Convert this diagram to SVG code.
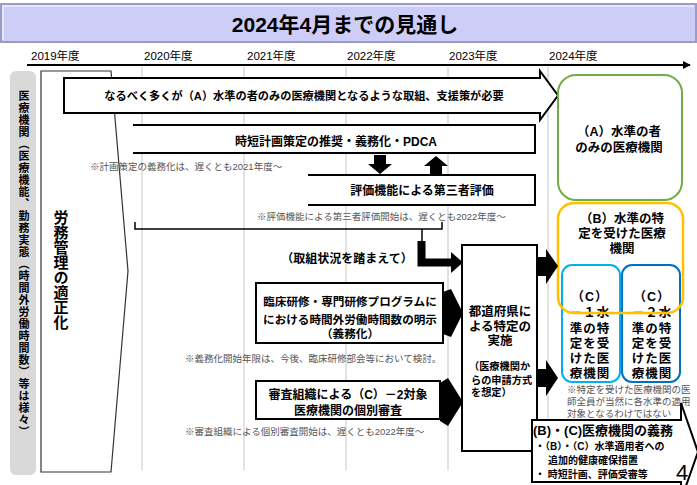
<svg xmlns="http://www.w3.org/2000/svg" width="697" height="485" viewBox="0 0 697 485">
<defs>
<style>
.t{font-family:"Liberation Sans","Noto Sans CJK JP",sans-serif;font-weight:bold;fill:#000}
.c{text-anchor:middle}
.note{font-family:"Liberation Sans","Noto Sans CJK JP",sans-serif;font-size:9.5px;fill:#555}
.box{fill:#fff;stroke:#000;stroke-width:2}
.grid{stroke:#d9d9d9;stroke-width:1.5}
.blk{fill:#000}
</style>
<marker id="ah" viewBox="0 0 10 10" refX="9" refY="5" markerWidth="4" markerHeight="4" orient="auto">
<path d="M0,0 L10,5 L0,10 Z" fill="#000"/>
</marker>
</defs>
<rect width="697" height="485" fill="#fff"/>

<g id="title">
<rect x="1" y="4" width="695" height="38" fill="#cdcdf7" stroke="#9a9acb" stroke-width="2"/>
<path d="M3,40 V6 H694" fill="none" stroke="#eeeeff" stroke-width="1.5"/>
<text class="t c" x="345" y="31.5" font-size="21">2024年4月までの見通し</text>
</g>

<g id="timeline">
<g class="t" font-size="11.5">
<text x="31" y="60" font-weight="normal">2019年度</text>
<text x="144" y="60" font-weight="normal">2020年度</text>
<text x="247" y="60" font-weight="normal">2021年度</text>
<text x="347" y="60" font-weight="normal">2022年度</text>
<text x="449" y="60" font-weight="normal">2023年度</text>
<text x="549" y="60" font-weight="normal">2024年度</text>
</g>
<line x1="27" y1="65" x2="690" y2="65" stroke="#000" stroke-width="2" marker-end="url(#ah)"/>
</g>

<g id="grid">
<line class="grid" x1="142" y1="67" x2="142" y2="470"/>
<line class="grid" x1="244" y1="67" x2="244" y2="470"/>
<line class="grid" x1="346" y1="67" x2="346" y2="470"/>
<line class="grid" x1="448" y1="67" x2="448" y2="470"/>
<line class="grid" x1="548" y1="67" x2="548" y2="470"/>
</g>

<g id="left-strip">
<rect x="10" y="71" width="26" height="404" rx="6" fill="#d9d9d9"/>
<text class="t" x="23" y="90" font-size="11" fill="#333" style="writing-mode:vertical-rl;letter-spacing:1px">医療機関（医療機能、勤務実態（時間外労働時間数）等は様々）</text>
</g>

<g id="labor">
<polygon points="41,71 111,71 128,271 111,472 41,472" fill="#fff" stroke="#333" stroke-width="1.2"/>
<text class="t" x="60" y="210" font-size="15" style="writing-mode:vertical-rl">労務管理の適正化</text>
</g>

<g id="goal-arrow">
<polygon class="box" points="64,78 540,78 540,71 558,95.5 540,120 540,113 64,113"/>
<text class="t c" x="304" y="100" font-size="11.2">なるべく多くが（A）水準の者のみの医療機関となるような取組、支援策が必要</text>
</g>

<g id="plan">
<path d="M133,125 H535 V153 H133" fill="#fff" stroke="#000" stroke-width="2"/>
<text class="t c" x="336" y="146" font-size="12">時短計画策定の推奨・義務化・PDCA</text>
<text class="note" x="90" y="170">※計画策定の義務化は、遅くとも2021年度～</text>
</g>

<g id="eval">
<path d="M308,175 H535 V205 H308" fill="#fff" stroke="#000" stroke-width="2"/>
<text class="t c" x="422" y="195" font-size="12">評価機能による第三者評価</text>
<text class="note" x="257" y="220">※評価機能による第三者評価開始は、遅くとも2022年度～</text>
</g>

<g id="status">
<text class="t c" x="347" y="263" font-size="12">（取組状況を踏まえて）</text>
</g>

<g id="training">
<rect class="box" x="256" y="283" width="187" height="60"/>
<text class="t c" x="350" y="306" font-size="11.6">臨床研修・専門研修プログラムに</text>
<text class="t c" x="350" y="323.5" font-size="11.6">における時間外労働時間数の明示</text>
<text class="t c" x="350" y="337.5" font-size="11.6">（義務化）</text>
<text class="note" x="185" y="362">※義務化開始年限は、今後、臨床研修部会等において検討。</text>
</g>

<g id="review">
<rect class="box" x="256" y="381" width="184" height="38"/>
<text class="t c" x="348" y="398.5" font-size="12">審査組織による（C）－2対象</text>
<text class="t c" x="348" y="414.5" font-size="12">医療機関の個別審査</text>
<text class="note" x="185" y="435">※審査組織による個別審査開始は、遅くとも2022年度～</text>
</g>

<g id="prefecture">
<rect class="box" x="462" y="245" width="75" height="206"/>
<text class="t c" x="500" y="316" font-size="12.5">都道府県に</text>
<text class="t c" x="500" y="330.5" font-size="12.5">よる特定の</text>
<text class="t c" x="500" y="344.5" font-size="12.5">実施</text>
<text class="t" x="469" y="370" font-size="10.2">（医療機関か</text>
<text class="t" x="471" y="384" font-size="10.2">らの申請方式</text>
<text class="t" x="471" y="396" font-size="10.2">を想定）</text>
</g>

<g id="level-a">
<rect x="558" y="75" width="124" height="125" rx="18" fill="#fff" stroke="#70ad47" stroke-width="2"/>
<text class="t c" x="619" y="136" font-size="12.5" fill="#222">（A）水準の者</text>
<text class="t c" x="619" y="152" font-size="12.5" fill="#222">のみの医療機関</text>
</g>

<g id="level-c1">
<rect x="562" y="265" width="58" height="117" rx="10" fill="none" stroke="#00b0f0" stroke-width="2"/>
<g class="t c" font-size="12.5" fill="#222" style="letter-spacing:1px">
<text x="590" y="300.5">（C）</text>
<text x="590" y="316.5">－１水</text>
<text x="590" y="332.5">準の特</text>
<text x="590" y="347.5">定を受</text>
<text x="590" y="362.5">けた医</text>
<text x="590" y="377.5">療機関</text>
</g>
</g>

<g id="level-c2">
<rect x="622" y="265" width="58" height="117" rx="10" fill="none" stroke="#0070c0" stroke-width="2"/>
<g class="t c" font-size="12.5" fill="#222" style="letter-spacing:1px">
<text x="652" y="300.5">（C）</text>
<text x="652" y="316.5">－２水</text>
<text x="652" y="332.5">準の特</text>
<text x="652" y="347.5">定を受</text>
<text x="652" y="362.5">けた医</text>
<text x="652" y="377.5">療機関</text>
</g>
</g>

<g id="level-b">
<rect x="558" y="203" width="125" height="110" rx="16" fill="none" stroke="#ffc000" stroke-width="2.5"/>
<text class="t c" x="622" y="223" font-size="12.5" fill="#222">（B）水準の特</text>
<text class="t c" x="622" y="238" font-size="12.5" fill="#222">定を受けた医療</text>
<text class="t c" x="622" y="253" font-size="12.5" fill="#222">機関</text>
</g>

<g id="level-note">
<text class="note" x="567" y="393" font-size="9.2">※特定を受けた医療機関の医</text>
<text class="note" x="567" y="404.5" font-size="9.2">師全員が当然に各水準の適用</text>
<text class="note" x="567" y="416.5" font-size="9.2">対象となるわけではない</text>
</g>

<g id="obligations">
<polygon class="box" points="532,420 681,420 681,403 698,452 681,500 681,482 532,482"/>
<text class="t" x="533" y="434.5" font-size="13">(B)・(C)医療機関の義務</text>
<text class="t" x="535" y="450" font-size="10">・（B）・（C）水準適用者への</text>
<text class="t" x="548" y="464" font-size="10">追加的健康確保措置</text>
<text class="t" x="535" y="477.5" font-size="10">・ 時短計画、評価受審等</text>
</g>

<g id="page">
<text x="682" y="480" font-family="Liberation Sans, sans-serif" font-size="22" text-anchor="middle" fill="#000">4</text>
</g>

<g id="connectors">
<polygon class="blk" points="374,155 386,155 386,164 392,164 380,174 368,164 374,164"/>
<polygon class="blk" points="430,175 442,175 442,166 448,166 436,156 424,166 430,166"/>
<path d="M135,222 V229 H442 V222 M422,229 V242" fill="none" stroke="#000" stroke-width="1.5"/>
<path d="M421.5,241 V262.5 H453" fill="none" stroke="#000" stroke-width="8"/>
<polygon class="blk" points="451,252 463,262.5 451,273"/>
<polygon class="blk" points="443,292 451,289 463,313 451,337 443,334"/>
<polygon class="blk" points="440,383 448,378 463,402 448,426 440,421"/>
<polygon class="blk" points="538,257 546,257 546,249 558,266 546,284 546,276 538,276"/>
<polygon class="blk" points="538,369 546,369 546,360 558,378 546,396 546,387 538,387"/>
</g>
</svg>
